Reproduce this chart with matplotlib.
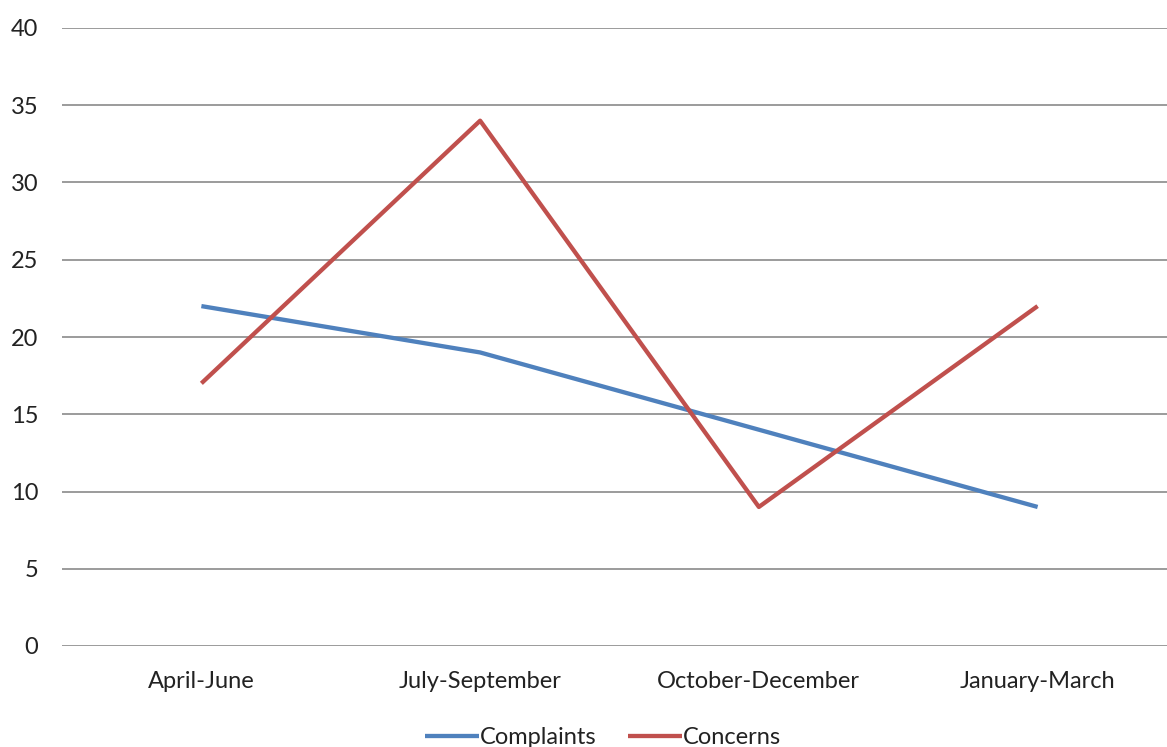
import matplotlib
matplotlib.use("Agg")
import matplotlib.pyplot as plt

quarters = ["April-June", "July-September", "October-December", "January-March"]
complaints = [22, 19, 14, 9]
concerns = [17, 34, 9, 22]
y_ticks = [0, 5, 10, 15, 20, 25, 30, 35, 40]

plt.rcParams["font.family"] = ["Lato", "DejaVu Sans"]

W, H = 1167, 747
fig = plt.figure(figsize=(W / 100, H / 100), dpi=100)
ax = fig.add_axes([62 / W, 101 / H, 1115 / W, 618 / H])

x = list(range(len(quarters)))
ax.plot(x, complaints, color="#4F81BD", lw=3.1, label="Complaints", solid_capstyle="butt", zorder=3)
ax.plot(x, concerns, color="#C0504D", lw=3.1, label="Concerns", solid_capstyle="butt", zorder=3)

ax.set_xlim(-0.5, len(quarters) - 0.5)
ax.set_ylim(0, 40)
ax.set_yticks(y_ticks)
ax.set_xticks(x)
ax.set_xticklabels(quarters)
ax.yaxis.grid(True, color="#8a8a8a", lw=1.2)
ax.set_axisbelow(True)
for s in ax.spines.values():
    s.set_visible(False)
ax.tick_params(axis="both", length=0, labelsize=17, colors="#222222")
ax.tick_params(axis="y", pad=17)
ax.tick_params(axis="x", pad=18)

fig.legend(loc="center", bbox_to_anchor=(603 / W, 9 / H), ncol=2, frameon=False,
           fontsize=17, handlelength=2.3, handletextpad=0.05, columnspacing=1.3,
           labelcolor="#222222")

fig.savefig("out.png", dpi=100)
